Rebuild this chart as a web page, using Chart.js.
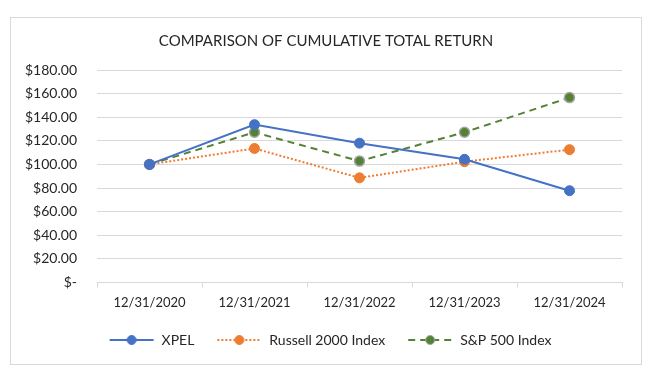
<!DOCTYPE html>
<html>
<head>
<meta charset="utf-8">
<script src="https://cdn.jsdelivr.net/npm/chart.js@4.4.1/dist/chart.umd.min.js"></script>
<style>
  html, body { margin: 0; padding: 0; background: #fff; }
  #wrap {
    position: absolute; left: 10px; top: 17px;
    width: 630px; height: 346px;
    border: 1px solid #d9d9d9;
  }
</style>
</head>
<body>
<div id="wrap"><canvas id="returnChart"></canvas></div>
<script>
// Data
const years = ['12/31/2020', '12/31/2021', '12/31/2022', '12/31/2023', '12/31/2024'];
const xpel = [100, 133.7, 118.0, 104.3, 77.7];
const russell2000 = [100, 113.5, 88.6, 102.3, 112.5];
const sp500 = [100, 127.2, 102.8, 127.2, 156.6];

const fontFamily = 'Lato, "Open Sans", sans-serif';
const textColor = '#262626';

// Small legend icons: line with a dot in the middle (left part of the canvas left blank as spacing)
function legendIcon(color, dash, dotFill, dotBorder) {
    const c = document.createElement('canvas');
    c.width = 54; c.height = 12;
    const g = c.getContext('2d');
    g.strokeStyle = color;
    g.lineWidth = 2;
    g.setLineDash(dash);
    g.beginPath();
    g.moveTo(9, 6); g.lineTo(53, 6);
    g.stroke();
    g.setLineDash([]);
    g.beginPath();
    g.arc(31, 6, 4.5, 0, Math.PI * 2);
    g.fillStyle = dotFill;
    g.fill();
    g.lineWidth = 1;
    g.strokeStyle = dotBorder;
    g.stroke();
    return c;
}

const icons = [
    legendIcon('#4472c4', [], '#4472c4', '#4472c4'),
    legendIcon('#ed7d31', [2, 2], '#ed7d31', '#ed7d31'),
    legendIcon('#548235', [7, 5], '#548235', '#a5a5a5')
];

const ctx = document.getElementById('returnChart').getContext('2d');
new Chart(ctx, {
    type: 'line',
    data: {
        labels: years,
        datasets: [{
            label: 'XPEL',
            data: xpel,
            borderColor: '#4472c4',
            backgroundColor: '#4472c4',
            borderWidth: 2,
            pointRadius: 5,
            pointBorderWidth: 1,
            pointBorderColor: '#4472c4'
        }, {
            label: 'Russell 2000 Index',
            data: russell2000,
            borderColor: '#ed7d31',
            backgroundColor: '#ed7d31',
            borderWidth: 2,
            borderDash: [2, 2],
            pointRadius: 5,
            pointBorderWidth: 1,
            pointBorderColor: '#ed7d31'
        }, {
            label: 'S&P 500 Index',
            data: sp500,
            borderColor: '#548235',
            backgroundColor: '#548235',
            borderWidth: 2,
            borderDash: [7, 5],
            pointRadius: 5,
            pointBorderWidth: 1.5,
            pointBorderColor: '#a5a5a5'
        }]
    },
    options: {
        responsive: true,
        maintainAspectRatio: false,
        animation: false,
        layout: { padding: { left: 0, right: 0, top: 12, bottom: 7 } },
        plugins: {
            title: {
                display: true,
                text: 'COMPARISON OF CUMULATIVE TOTAL RETURN',
                color: textColor,
                font: { family: fontFamily, size: 15, weight: 'normal' },
                padding: { top: 2, bottom: 20 }
            },
            legend: {
                position: 'bottom',
                labels: {
                    color: textColor,
                    font: { family: fontFamily, size: 14 },
                    usePointStyle: true,
                    pointStyleWidth: 54,
                    padding: 14,
                    generateLabels(chart) {
                        const items = Chart.defaults.plugins.legend.labels.generateLabels(chart);
                        items.forEach((item, i) => { item.pointStyle = icons[i]; });
                        return items;
                    }
                }
            },
            tooltip: { enabled: false }
        },
        scales: {
            x: {
                offset: true,
                grid: {
                    offset: true,
                    drawOnChartArea: false,
                    color: '#d9d9d9',
                    tickLength: 5
                },
                border: { color: '#d9d9d9' },
                ticks: {
                    color: textColor,
                    font: { family: fontFamily, size: 13 },
                    padding: 8,
                    maxRotation: 0
                }
            },
            y: {
                min: 0,
                max: 180,
                ticks: {
                    stepSize: 20,
                    color: textColor,
                    font: { family: fontFamily, size: 14 },
                    padding: 20,
                    callback: v => v === 0 ? '$-' : '$' + v.toFixed(2)
                },
                grid: { color: '#d9d9d9', drawTicks: false },
                border: { display: false },
                afterFit(scale) { scale.width = 86; }
            },
            // empty right-hand axis, only keeps a margin so the title stays centred
            yRight: {
                position: 'right',
                min: 0,
                max: 180,
                ticks: { display: false },
                grid: { display: false },
                border: { display: false },
                afterFit(scale) { scale.width = 19; }
            }
        }
    }
});
</script>
</body>
</html>
